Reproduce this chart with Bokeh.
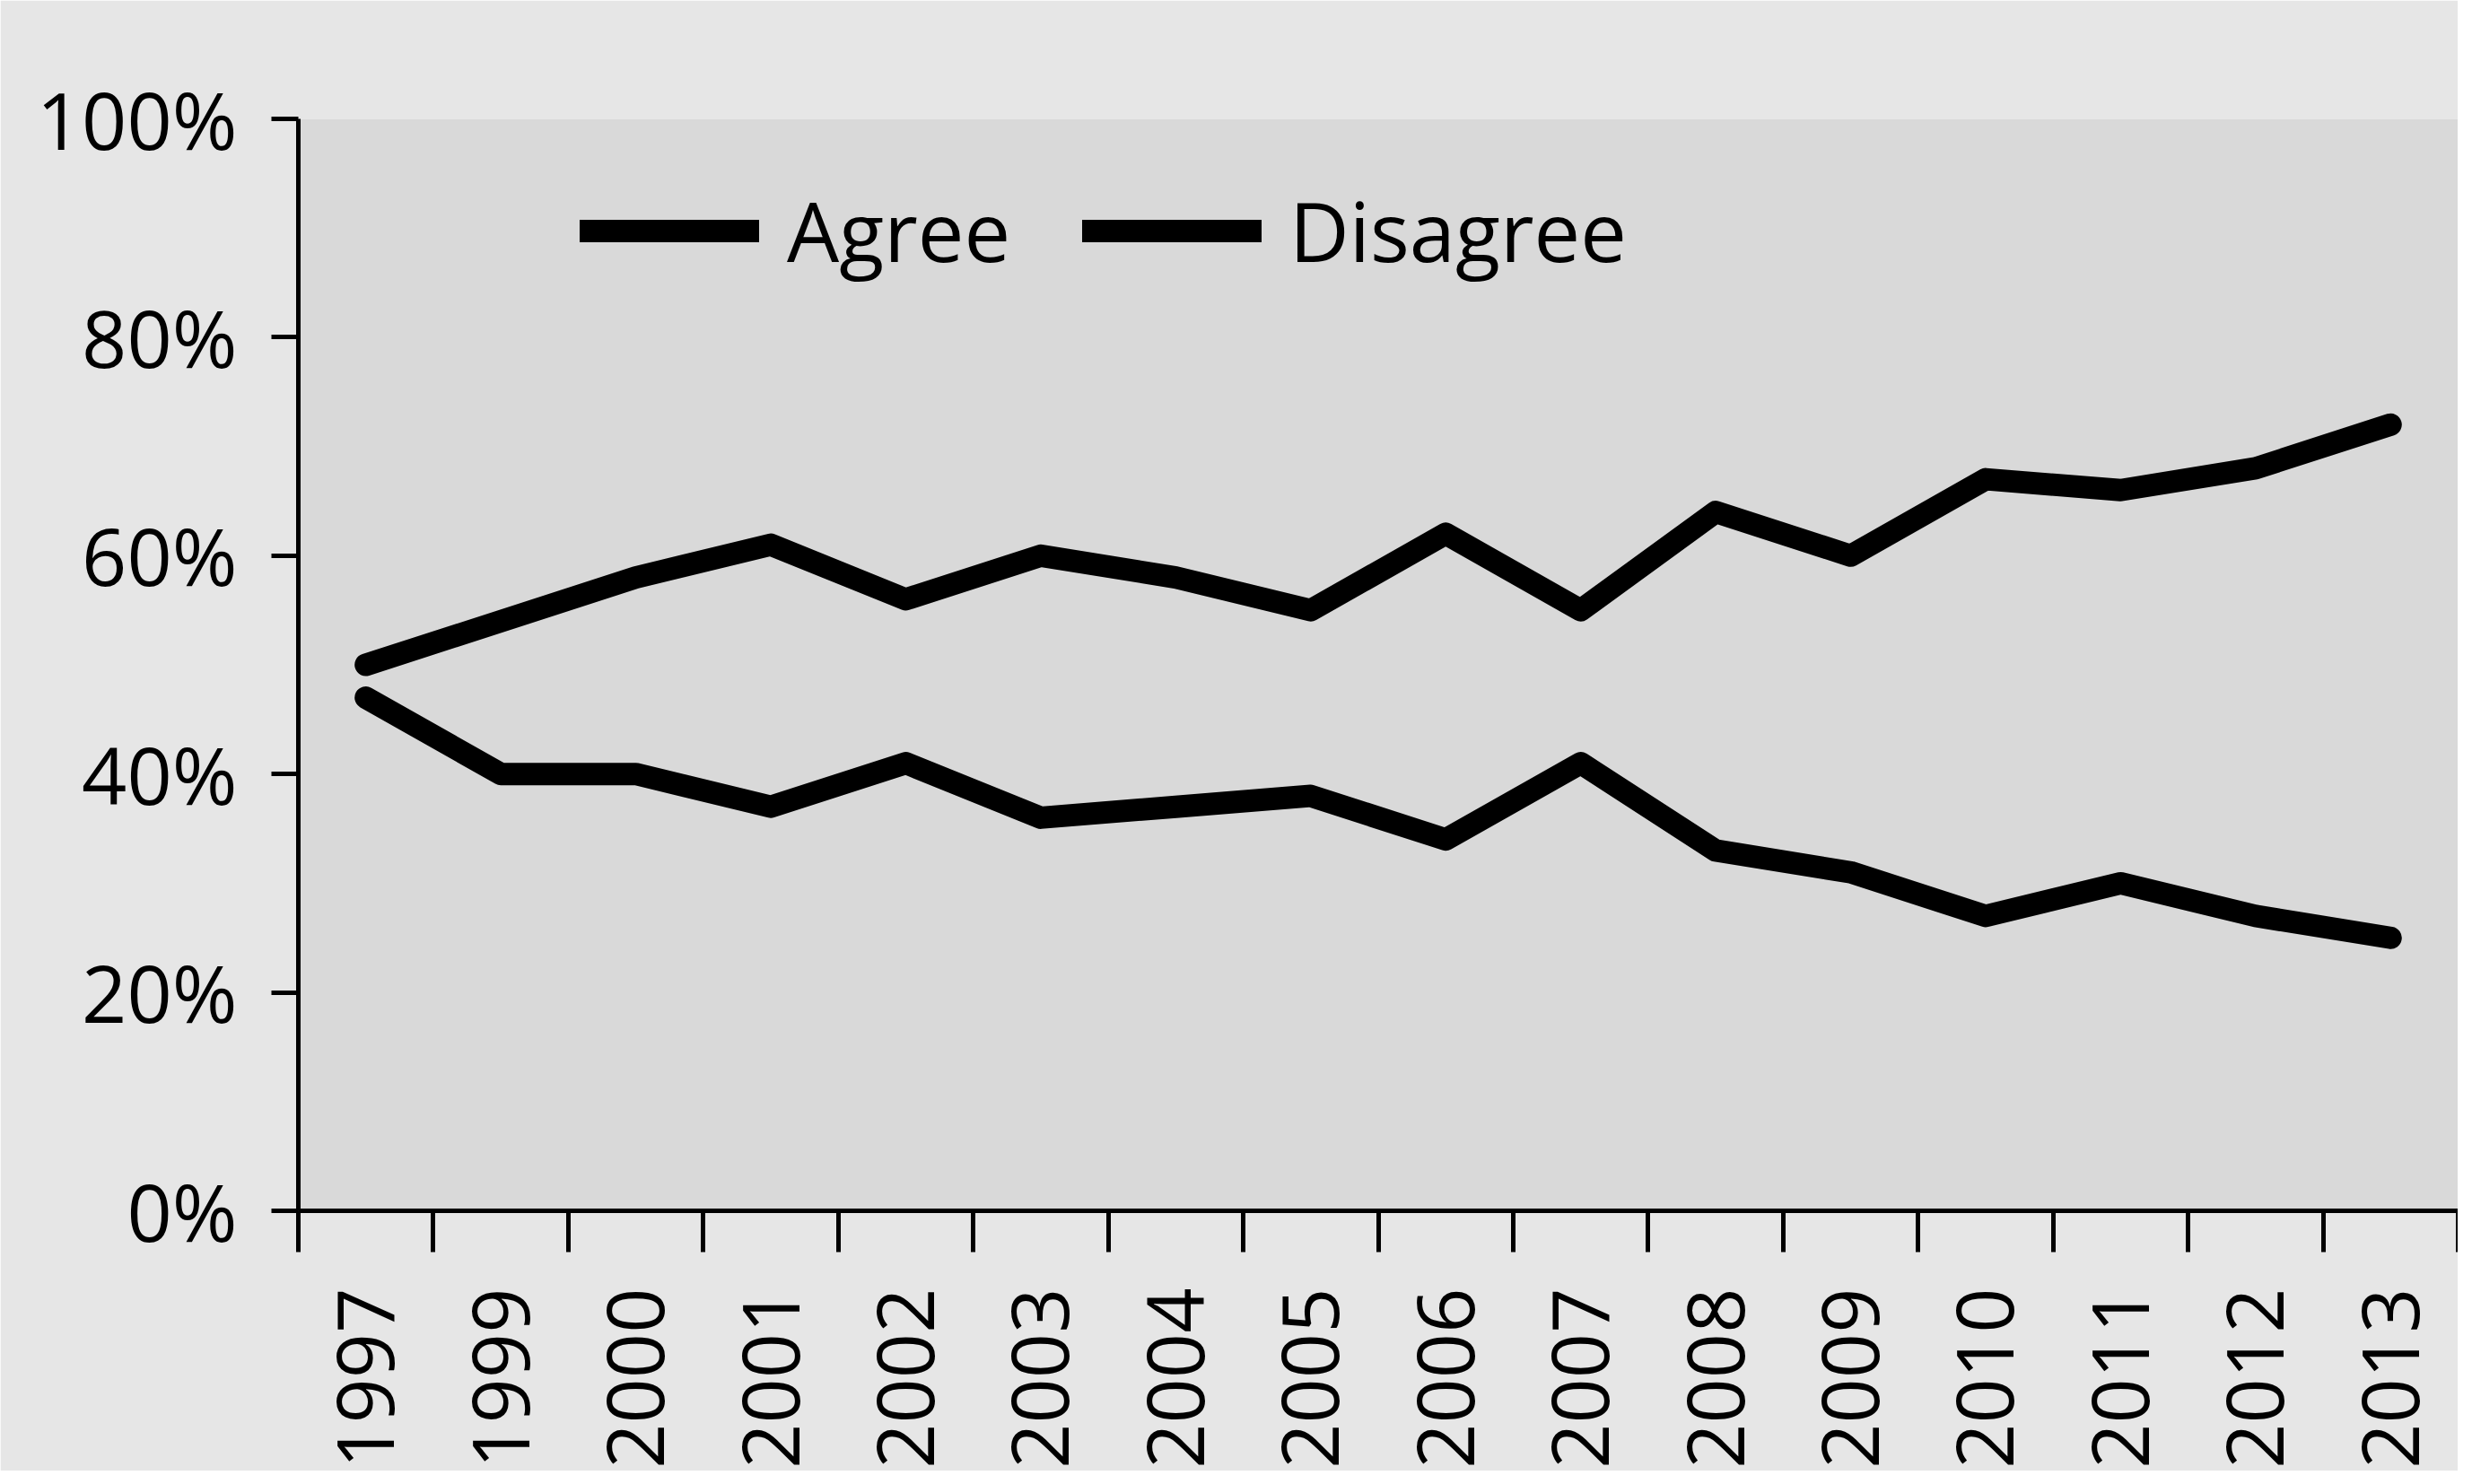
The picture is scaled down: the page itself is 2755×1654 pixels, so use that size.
import math
from bokeh.plotting import figure
from bokeh.models import (ColumnDataSource, FixedTicker, NumeralTickFormatter, Range1d,
                          Legend, LegendItem)
from bokeh.embed import file_html
from bokeh.resources import INLINE

# ---- data (percent) ----
years = ["1997", "1999", "2000", "2001", "2002", "2003", "2004", "2005",
         "2006", "2007", "2008", "2009", "2010", "2011", "2012", "2013"]
agree = [50, 54, 58, 61, 56, 60, 58, 55, 62, 55, 64, 60, 67, 66, 68, 72]
disagree = [47, 40, 40, 37, 41, 36, 37, 38, 34, 41, 33, 31, 27, 30, 27, 25]
y_ticks = [0, 20, 40, 60, 80, 100]

FONT = "Open Sans"
FS = "88px"

xpos = [i + 0.5 for i in range(len(years))]
src = ColumnDataSource(dict(
    x=xpos,
    agree=[v / 100 for v in agree],
    disagree=[v / 100 for v in disagree],
))

p = figure(frame_width=2407, frame_height=1217, output_backend="svg",
           toolbar_location=None,
           x_range=Range1d(0, 16), y_range=Range1d(0, 1.0),
           min_border_left=332, min_border_top=132, min_border_right=0,
           min_border_bottom=290)

p.background_fill_color = "#d9d9d9"
p.border_fill_color = "#e6e6e6"
p.outline_line_color = None
p.xgrid.visible = False
p.ygrid.visible = False

r1 = p.line("x", "agree", source=src, line_color="black", line_width=25,
            line_join="round", line_cap="round")
r2 = p.line("x", "disagree", source=src, line_color="black", line_width=25,
            line_join="round", line_cap="round")

# y axis
yax = p.yaxis[0]
yax.ticker = FixedTicker(ticks=[t / 100 for t in y_ticks], minor_ticks=[])
yax.formatter = NumeralTickFormatter(format="0%")
yax.major_tick_out = 30
yax.major_tick_in = 0
yax.minor_tick_out = 0
yax.minor_tick_in = 0
yax.major_tick_line_width = 5
yax.axis_line_width = 5
yax.major_label_standoff = 38
yax.major_label_text_font = FONT
yax.major_label_text_font_size = FS
yax.major_label_text_color = "black"

# x axis: labels at category centres, tick marks at category boundaries
xax = p.xaxis[0]
xax.ticker = FixedTicker(ticks=xpos, minor_ticks=list(range(len(years) + 1)))
xax.major_label_overrides = {x: y for x, y in zip(xpos, years)}
xax.major_tick_out = 0
xax.major_tick_in = 0
xax.minor_tick_out = 46
xax.minor_tick_in = 0
xax.minor_tick_line_width = 5
xax.minor_tick_line_color = "black"
xax.axis_line_width = 5
xax.major_label_orientation = math.pi / 2
xax.major_label_standoff = 40
xax.major_label_text_font = FONT
xax.major_label_text_font_size = FS
xax.major_label_text_color = "black"

legend = Legend(items=[LegendItem(label="Agree", renderers=[r1]),
                       LegendItem(label="Disagree", renderers=[r2])],
                orientation="horizontal", location=(314, 1030),
                glyph_width=200, glyph_height=30, label_standoff=31, spacing=80,
                padding=0, margin=0, border_line_alpha=0, background_fill_alpha=0,
                label_text_font=FONT, label_text_font_size="92px",
                label_text_color="black")
p.add_layout(legend)

open("out.html", "w").write(file_html(p, INLINE))
